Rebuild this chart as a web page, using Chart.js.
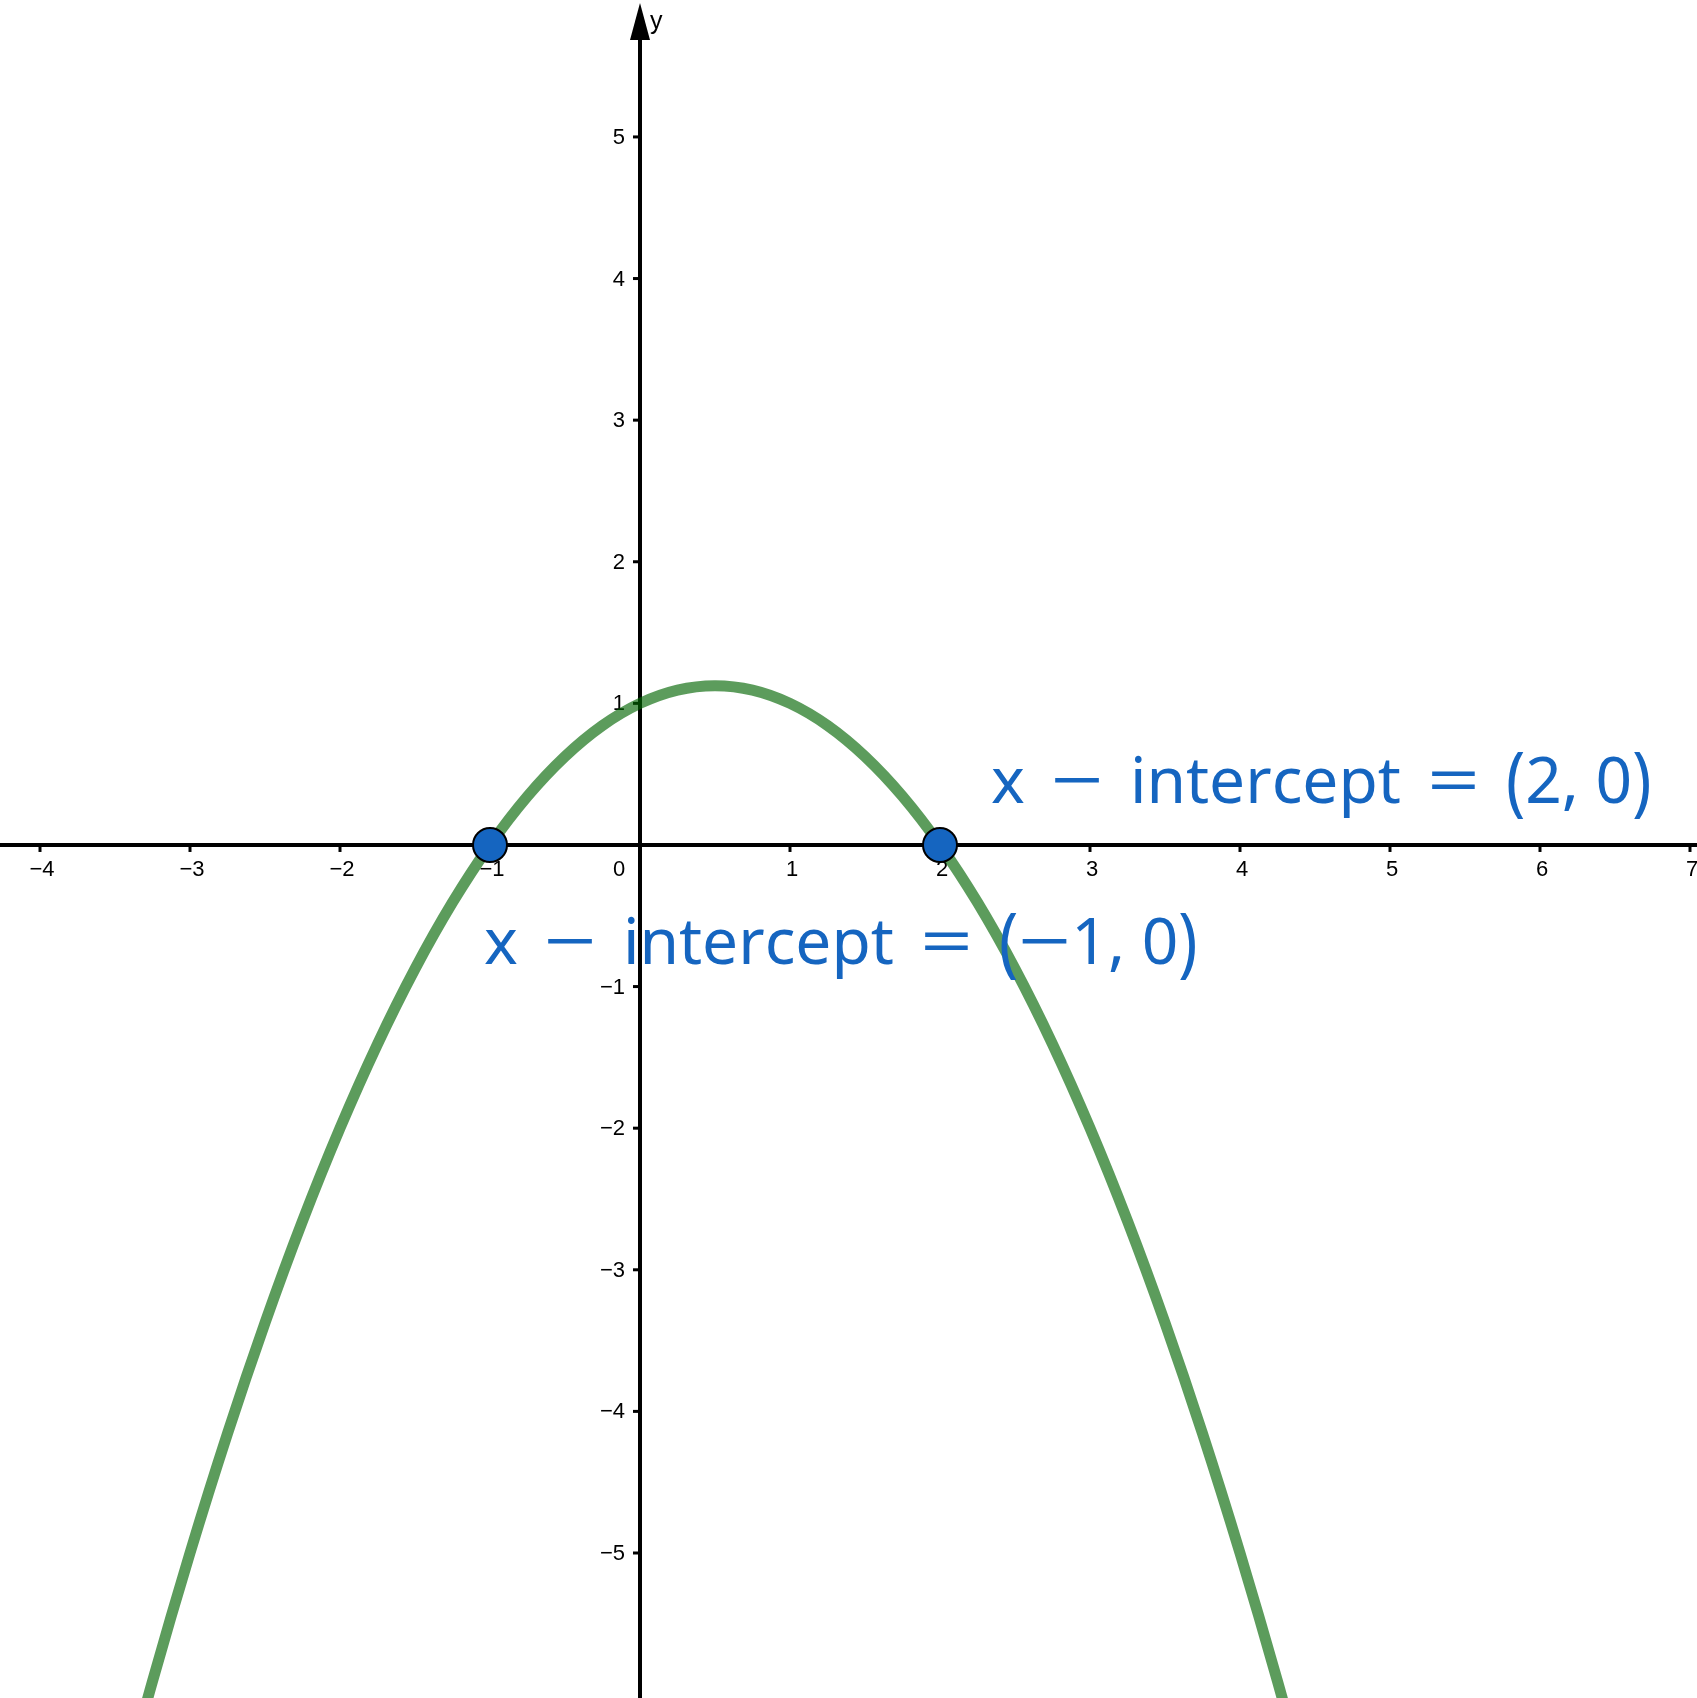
<!DOCTYPE html>
<html>
<head>
<meta charset="utf-8">
<script src="https://cdn.jsdelivr.net/npm/chart.js@4.4.1/dist/chart.umd.min.js"></script>
<style>
  html, body { margin: 0; padding: 0; background: #fff; }
  canvas { display: block; }
</style>
</head>
<body>
<canvas id="myChart" width="1697" height="1698"></canvas>
<script>
// curve y = f(x)
var curveX = [-3.5, -3.25, -3, -2.75, -2.5, -2.25, -2, -1.75, -1.5, -1.25, -1, -0.75, -0.5, -0.25,
              0, 0.25, 0.5, 0.75, 1, 1.25, 1.5, 1.75, 2, 2.25, 2.5, 2.75, 3, 3.25, 3.5, 3.75, 4, 4.25, 4.5];
var curveY = [-6.875, -5.906, -5, -4.156, -3.375, -2.656, -2, -1.406, -0.875, -0.406, 0, 0.344, 0.625, 0.844,
              1, 1.094, 1.125, 1.094, 1, 0.844, 0.625, 0.344, 0, -0.406, -0.875, -1.406, -2, -2.656, -3.375, -4.156, -5, -5.906, -6.875];

// marked intercepts
var pointX = [-1, 2];
var pointY = [0, 0];
var pointLabels = ["(\u22121, 0)", "(2, 0)"];

// axis ticks
var xTicks = [-4, -3, -2, -1, 1, 2, 3, 4, 5, 6, 7];
var yTicks = [-5, -4, -3, -2, -1, 1, 2, 3, 4, 5];

var ctx = document.getElementById("myChart").getContext("2d");

function minus(v) {
    return v < 0 ? "\u2212" + Math.abs(v) : String(v);
}

// draws a string like LaTeX would: wide operators, tall parens. returns the new x
function drawMath(c, str, x, y) {
    var chars = str.split('');
    chars.forEach(function(ch) {
        var w = c.measureText(ch).width;
        c.save();
        if (ch === '\u2212' || ch === '=') {
            c.translate(x, y);
            c.scale(1.45, 1);
            c.fillText(ch, 0, 0);
            w = w * 1.45;
        } else if (ch === '(' || ch === ')') {
            c.translate(x, y - 20);
            c.scale(1, 1.2);
            c.fillText(ch, 0, 20);
        } else {
            c.fillText(ch, x, y);
        }
        c.restore();
        x += w;
    });
    return x;
}

var axesPlugin = {
    id: 'axes',
    beforeDatasetsDraw: function(chart) {
        var c = chart.ctx;
        var xs = chart.scales.x, ys = chart.scales.y;
        var x0 = xs.getPixelForValue(0), y0 = ys.getPixelForValue(0);
        var top = chart.chartArea.top;
        c.save();
        c.strokeStyle = '#000';
        c.fillStyle = '#000';
        c.lineWidth = 4;
        // x axis
        c.beginPath();
        c.moveTo(chart.chartArea.left, y0);
        c.lineTo(chart.chartArea.right, y0);
        c.stroke();
        // y axis
        c.beginPath();
        c.moveTo(x0, chart.chartArea.bottom);
        c.lineTo(x0, top + 30);
        c.stroke();
        // arrow
        c.beginPath();
        c.moveTo(x0, top + 3);
        c.lineTo(x0 - 10, top + 40);
        c.lineTo(x0 + 10, top + 40);
        c.closePath();
        c.fill();
        // tick marks + labels
        c.lineWidth = 3;
        c.font = '22px "Liberation Sans", Arial, sans-serif';
        c.textAlign = 'center';
        c.textBaseline = 'middle';
        xTicks.forEach(function(v) {
            var px = xs.getPixelForValue(v);
            c.beginPath();
            c.moveTo(px, y0);
            c.lineTo(px, y0 + 7);
            c.stroke();
            c.fillText(minus(v), px + 2, y0 + 25);
        });
        c.fillText("0", x0 - 21, y0 + 25);
        c.textAlign = 'right';
        yTicks.forEach(function(v) {
            var py = ys.getPixelForValue(v);
            c.beginPath();
            c.moveTo(x0, py);
            c.lineTo(x0 - 7, py);
            c.stroke();
            c.fillText(minus(v), x0 - 15, py + 1);
        });
        c.textAlign = 'left';
        c.font = '25px "Liberation Sans", Arial, sans-serif';
        c.fillText("y", x0 + 10, top + 22);
        c.restore();
    },
    afterDatasetsDraw: function(chart) {
        var c = chart.ctx;
        var xs = chart.scales.x, ys = chart.scales.y;
        c.save();
        c.fillStyle = '#1565c0';
        c.textBaseline = 'alphabetic';
        c.textAlign = 'left';
        c.font = '64px "Noto Sans", sans-serif';
        var gap = 26;
        // label anchors relative to their point
        var anchors = [
            { dx: -6, dy: 119 },
            { dx: 51, dy: -42 }
        ];
        pointX.forEach(function(v, i) {
            var px = xs.getPixelForValue(v) + anchors[i].dx;
            var py = ys.getPixelForValue(pointY[i]) + anchors[i].dy;
            var parts = ["x", "\u2212", "intercept", "=", pointLabels[i]];
            parts.forEach(function(p) {
                px = drawMath(c, p, px, py) + gap;
            });
        });
        c.restore();
    }
};

var curveData = curveX.map(function(v, i) { return { x: v, y: curveY[i] }; });
var pointData = pointX.map(function(v, i) { return { x: v, y: pointY[i] }; });

var config = {
    type: 'scatter',
    data: {
        datasets: [
            {
                label: 'curve',
                data: curveData,
                showLine: true,
                borderColor: 'rgba(0, 100, 0, 0.64)',
                borderWidth: 11,
                pointRadius: 0,
                tension: 0.4,
                order: 2
            },
            {
                label: 'intercepts',
                data: pointData,
                showLine: false,
                pointRadius: 17,
                pointBackgroundColor: '#1565c0',
                pointBorderColor: '#000',
                pointBorderWidth: 2,
                order: 1
            }
        ]
    },
    options: {
        responsive: false,
        animation: false,
        devicePixelRatio: 1,
        layout: { padding: 0, autoPadding: false },
        plugins: {
            legend: { display: false },
            tooltip: { enabled: false }
        },
        scales: {
            x: { type: 'linear', min: -4.2667, max: 7.0467, display: false },
            y: { type: 'linear', min: -6.024, max: 5.967, display: false }
        }
    },
    plugins: [axesPlugin]
};

var myChart = new Chart(ctx, config);
</script>
</body>
</html>
